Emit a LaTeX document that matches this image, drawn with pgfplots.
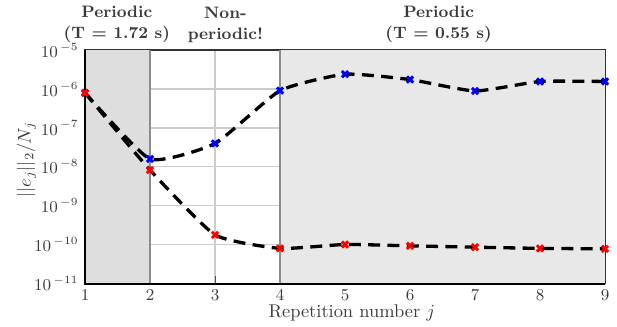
\documentclass[border=0pt]{standalone}
\usepackage{pgfplots}
\pgfplotsset{compat=1.18}
\definecolor{txt}{HTML}{3a3a3a}
\definecolor{shadeA}{HTML}{dedede}
\definecolor{shadeB}{HTML}{e8e8e8}
\begin{document}
\begin{tikzpicture}
\begin{axis}[
  set layers,
  scale only axis, width=282.6pt, height=127pt,
  ymode=log, xmin=1, xmax=9, ymin=1e-11, ymax=1e-5,
  xtick={1,2,3,4,5,6,7,8,9},
  ytick={1e-11,1e-10,1e-9,1e-8,1e-7,1e-6,1e-5},
  yticklabels={$10^{\,-11}$,$10^{\,-10}$,$10^{\,-9}$,$10^{\,-8}$,$10^{\,-7}$,$10^{\,-6}$,$10^{\,-5}$},
  grid=major, major grid style={color=black!20, line width=0.6pt},
  tick align=inside, tick style={black!70},
  xtick pos=bottom, ytick pos=both,
  minor y tick num=8,
  ticklabel style={font=\small, text=txt},
  axis line style={black!80, line width=0.8pt},
  xlabel={Repetition number $j$}, ylabel={$||e_j||_2/N_j$},
  label style={text=txt},
  xlabel style={at={(axis description cs:0.513,-0.088)}, anchor=north, inner sep=0pt},
  ylabel style={at={(axis description cs:-0.113,0.53)}, anchor=center},
  clip=false,
]
\fill[shadeA, on layer=axis background] (axis cs:1,1e-11) rectangle (axis cs:2,1e-5);
\fill[shadeB, on layer=axis background] (axis cs:4,1e-11) rectangle (axis cs:9,1e-5);
\draw[black!45, line width=0.9pt, on layer=axis grid] (axis cs:2,1e-11) -- (axis cs:2,1e-5);
\draw[black!45, line width=0.9pt, on layer=axis grid] (axis cs:4,1e-11) -- (axis cs:4,1e-5);
\draw[black, line width=1.1pt] (rel axis cs:0,1) -- (rel axis cs:0,0) -- (rel axis cs:1,0);

% dashed connecting curves
\addplot[black, line width=1.8pt, dash pattern=on 6.5pt off 4pt, smooth, tension=0.3, no marks] coordinates {
(1,8e-7) (2,1.6e-8) (3,4e-8) (4,9.1e-7) (5,2.4e-6) (6,1.75e-6) (7,8.9e-7) (8,1.56e-6) (9,1.56e-6)};
\addplot[black, line width=1.8pt, dash pattern=on 6.5pt off 4pt, smooth, tension=0.3, no marks] coordinates {
(1,8e-7) (2,8.3e-9) (3,1.8e-10) (4,8.1e-11) (5,1.02e-10) (6,9.4e-11) (7,8.7e-11) (8,8.1e-11) (9,7.9e-11)};

% markers
\addplot[only marks, blue, mark=x, mark size=2.4pt, mark options={line width=1.6pt}] coordinates {
(1,8e-7) (2,1.6e-8) (3,4e-8) (4,9.1e-7) (5,2.4e-6) (6,1.75e-6) (7,8.9e-7) (8,1.56e-6) (9,1.56e-6)};
\addplot[only marks, red, mark=x, mark size=2.4pt, mark options={line width=1.6pt}] coordinates {
(1,8e-7) (2,8.3e-9) (3,1.8e-10) (4,8.1e-11) (5,1.02e-10) (6,9.4e-11) (7,8.7e-11) (8,8.1e-11) (9,7.9e-11)};

\node[align=center, font=\small\bfseries, text=txt, anchor=south, inner sep=1pt, yshift=3pt] at (axis cs:1.49,1e-5) {Periodic\\(T = 1.72 s)};
\node[align=center, font=\small\bfseries, text=txt, anchor=south, inner sep=1pt, yshift=3pt] at (axis cs:3.16,1e-5) {Non-\\periodic!};
\node[align=center, font=\small\bfseries, text=txt, anchor=south, inner sep=1pt, yshift=3pt] at (axis cs:6.44,1e-5) {Periodic\\(T = 0.55 s)};

\coordinate (bl) at (rel axis cs:0,0);
\coordinate (tr) at (rel axis cs:1,1);
\end{axis}
\pgfresetboundingbox
\path[use as bounding box] ([shift={(-46.2pt,-23.4pt)}]bl) rectangle ([shift={(6.5pt,27.2pt)}]tr);
\end{tikzpicture}
\end{document}
